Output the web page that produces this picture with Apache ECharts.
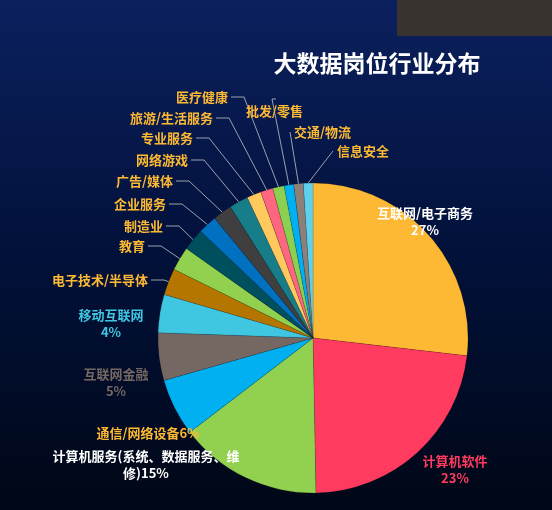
<!DOCTYPE html><html><head><meta charset="utf-8"><script src="https://cdn.jsdelivr.net/npm/echarts@6/dist/echarts.min.js"></script>
<style>html,body{margin:0;padding:0;background:#000}#c{width:552px;height:510px}</style></head><body><div id="c"></div><script>
const names=['互联网/电子商务','计算机软件','计算机服务(系统、数据服务、维修)','通信/网络设备','互联网金融','移动互联网','电子技术/半导体','教育','制造业','企业服务','广告/媒体','网络游戏','专业服务','旅游/生活服务','医疗健康','批发/零售','交通/物流','信息安全'];
const values=[27,23,15,6,5,4,2.8,2.5,2.3,2,2,2,1.5,1.3,1.2,1,1,1];
const colors=['#FDB933','#FF3B5F','#92D050','#00B0F0','#756761','#3FC6E0','#B57600','#92D050','#004F5C','#0070C0','#3F3F3F','#177E89','#FFC95E','#FF6680','#8BD14F','#00B0F0','#8C8079','#5ED1EC'];
const bigLabel=[
 {color:'#fff',pos:[425,222],text:'互联网/电子商务\n27%'},
 {color:'#FF3B5F',pos:[455,470],text:'计算机软件\n23%'},
 {color:'#fff',pos:[146,465],text:'计算机服务(系统、数据服务、维\n修)15%'},
 {color:'#FDB933',pos:[148,433],text:'通信/网络设备6%'},
 {color:'#756761',pos:[116,383],text:'互联网金融\n5%'},
 {color:'#3FC6E0',pos:[111,324],text:'移动互联网\n4%'}];
// small-label anchor: [x, y, align]
const smallPos=[[148,280,'right'],[145,246,'right'],[163,226,'right'],[166,204,'right'],[173,181,'right'],[188,160,'right'],[193,138,'right'],[213,118,'right'],[228,97,'right'],[246,111,'left'],[294,132,'left'],[337,151,'left']];
const data=names.map((n,i)=>{const d={name:n,value:values[i],itemStyle:{color:colors[i]}};
 if(i<6){d.label={color:bigLabel[i].color,formatter:bigLabel[i].text,align:'center'};d.labelLine={show:false};}
 return d;});
const ch=echarts.init(document.getElementById('c'));
ch.setOption({
 backgroundColor:{type:'linear',x:0,y:0,x2:0,y2:1,colorStops:[{offset:0,color:'#0b205e'},{offset:0.5,color:'#02113a'},{offset:1,color:'#000716'}]},
 title:{text:'大数据岗位行业分布',left:372,top:47,textAlign:'center',textStyle:{color:'#fff',fontSize:23,fontWeight:'bold',fontFamily:'Noto Sans CJK SC'}},
 graphic:[{type:'rect',shape:{x:397,y:0,width:155,height:36},style:{fill:'#3a3430'}}],
 series:[{type:'pie',center:[313,338],radius:155,startAngle:90,clockwise:true,animation:false,
  itemStyle:{borderColor:'rgba(0,0,0,0.25)',borderWidth:0.5},
  label:{color:'#FDB933',fontSize:13,fontWeight:'bold',fontFamily:'Noto Sans CJK SC',lineHeight:17,overflow:'none'},
  labelLine:{lineStyle:{color:'#9aa0ad'},length:15,length2:12},
  labelLayout:function(p){const i=p.dataIndex;
   if(i<6){return {x:bigLabel[i].pos[0],y:bigLabel[i].pos[1],align:'center',verticalAlign:'middle'};}
   const s=smallPos[i-6];const st=p.labelLinePoints?p.labelLinePoints[0]:null;
   const dx=s[2]==='right'?1:-1;
   const r={x:s[2]==='right'?s[0]:s[0],y:s[1],align:s[2],verticalAlign:'middle'};
   if(st){r.labelLinePoints=[st,[s[0]+dx*16,s[1]],[s[0]+dx*3,s[1]]];
     if(s[2]==='left'){r.x=s[0]+0;r.labelLinePoints=[st,[s[0]-6,s[1]+ (i===15?-14:0)],[s[0]-6,s[1]+(i===15?-14:0)]];r.labelLinePoints=[st,[s[0]-4+(i===15?30:0),s[1]+(i===15?-12:0)],[s[0]+(i===15?30:-4),s[1]+(i===15?-12:0)]];}
   }
   return r;},
  data:data}]
});
</script></body></html>
